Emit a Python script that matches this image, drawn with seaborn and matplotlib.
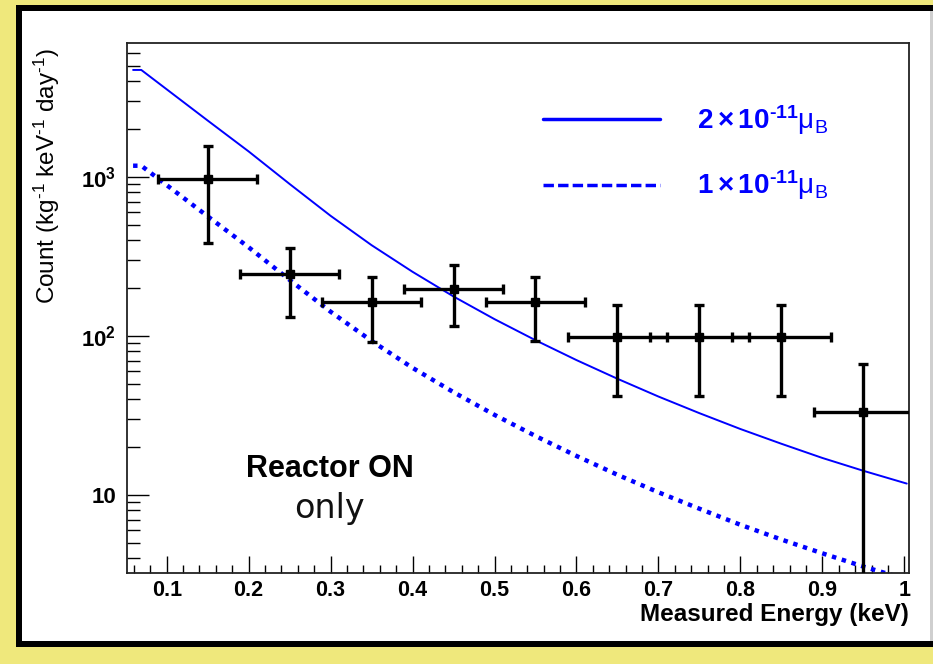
import matplotlib
matplotlib.use('Agg')
import matplotlib.pyplot as plt
from matplotlib.lines import Line2D
from matplotlib.patches import Rectangle
from matplotlib.ticker import FixedLocator, FixedFormatter, LogLocator, NullFormatter, MultipleLocator
import seaborn as sns

# model curves (energy in keV, count per kg/keV/day)
energy = [0.059, 0.069, 0.15, 0.2, 0.25, 0.3, 0.35, 0.4, 0.45, 0.5, 0.55, 0.6,
          0.65, 0.7, 0.75, 0.8, 0.85, 0.9, 0.95, 1.003]
mu_2e11 = [4700, 4700, 2260, 1445, 902, 569, 372, 253, 177, 127.5, 94, 70.5,
           53.8, 41.6, 32.7, 26.0, 21.0, 17.1, 14.2, 11.8]
mu_1e11 = [1175, 1175, 565, 361, 225, 142, 93, 63, 44.3, 31.9, 23.5, 17.6,
           13.4, 10.4, 8.2, 6.5, 5.25, 4.3, 3.55, 2.95]

# measured points (reactor ON only)
bin_center = [0.15, 0.25, 0.35, 0.45, 0.55, 0.65, 0.75, 0.85, 0.95]
counts = [966, 245, 163, 198, 163, 99, 99, 99, 33.1]
counts_hi = [1566, 357, 236, 280, 236, 157, 157, 157, 66.7]
counts_lo = [382, 131, 91.6, 116, 93, 42.2, 42.2, 42.2, 0.5]
bin_halfwidth = 0.06

blue = '#0000ff'
yellow = '#efe87c'

sns.set_theme(style='ticks')
plt.rcParams['font.family'] = ['Liberation Sans', 'DejaVu Sans']
plt.rcParams['mathtext.fontset'] = 'custom'
plt.rcParams['mathtext.rm'] = 'Liberation Sans'
plt.rcParams['mathtext.bf'] = 'Liberation Sans:bold'
plt.rcParams['mathtext.it'] = 'Liberation Sans:italic'
plt.rcParams['text.color'] = 'black'
plt.rcParams['axes.labelcolor'] = 'black'
plt.rcParams['xtick.color'] = 'black'
plt.rcParams['ytick.color'] = 'black'

W, H = 933, 664
fig = plt.figure(figsize=(9.33, 6.64), dpi=100)
fig.patch.set_facecolor('white')


def px_rect(x0, y0, x1, y1, color):
    # rectangle given in pixel coords (top-left origin)
    fig.patches.append(Rectangle((x0 / W, 1 - y1 / H), (x1 - x0) / W, (y1 - y0) / H,
                                 transform=fig.transFigure, facecolor=color,
                                 edgecolor='none', zorder=-1))


# yellow surround and black frame (open on the right)
px_rect(0, 0, W, 5, yellow)
px_rect(0, 647, W, H, yellow)
px_rect(0, 0, 16, H, yellow)
px_rect(16, 5, W, 11, 'black')
px_rect(16, 641, W, 647, 'black')
px_rect(16, 5, 22, 647, 'black')
px_rect(930, 11, W, 641, '#cfcfcf')

ax = fig.add_axes([0.1365, 0.1366, 0.838, 0.798])
ax.set_facecolor('white')

sns.lineplot(x=energy, y=mu_2e11, ax=ax, color=blue, lw=1.4)
sns.lineplot(x=energy, y=mu_1e11, ax=ax, color=blue, lw=3.2, linestyle=(0, (1.0, 1.3)))

lo = [c - l for c, l in zip(counts, counts_lo)]
hi = [h - c for c, h in zip(counts, counts_hi)]
ax.errorbar(bin_center, counts, xerr=bin_halfwidth, yerr=[lo, hi], fmt='s', color='black',
            ms=6, elinewidth=2.4, capsize=3.5, capthick=2.4, zorder=3)

ax.set_yscale('log')
ax.set_xlim(0.052, 1.006)
ax.set_ylim(3.22, 6900)

ax.yaxis.set_major_locator(FixedLocator([10, 100, 1000]))
ax.yaxis.set_major_formatter(FixedFormatter(['10', r'$\mathbf{10^2}$', r'$\mathbf{10^3}$']))
ax.yaxis.set_minor_locator(LogLocator(base=10, subs=range(2, 10)))
ax.yaxis.set_minor_formatter(NullFormatter())
ax.xaxis.set_minor_locator(MultipleLocator(0.02))
ax.set_xticks([0.1, 0.2, 0.3, 0.4, 0.5, 0.6, 0.7, 0.8, 0.9, 1.0])
ax.set_xticklabels(['0.1', '0.2', '0.3', '0.4', '0.5', '0.6', '0.7', '0.8', '0.9', '1'])

ax.tick_params(axis='x', which='major', direction='in', length=12, width=1, pad=5,
               labelsize=15.5)
ax.tick_params(axis='x', which='minor', direction='in', length=6, width=1)
ax.tick_params(axis='y', which='major', direction='in', length=16, width=1, pad=8,
               labelsize=16)
ax.tick_params(axis='y', which='minor', direction='in', length=9, width=1)
for lab in ax.get_xticklabels() + ax.get_yticklabels():
    lab.set_fontweight('bold')

for sp in ax.spines.values():
    sp.set_visible(True)
    sp.set_linewidth(1.3)
    sp.set_color('#222222')

ax.set_xlabel('')
ax.set_ylabel('')
fig.text(0.9746, 1 - 615 / 664, 'Measured Energy (keV)', ha='right', va='center',
         fontsize=17.5, fontweight='bold')
fig.text(47 / 933, 1 - 48 / 664,
         r'Count (kg$^{\text{-1}}$ keV$^{\text{-1}}$ day$^{\text{-1}}$)', rotation=90,
         ha='center', va='top', fontsize=17.5)

handles = [Line2D([], [], color=blue, lw=2.5),
           Line2D([], [], color=blue, lw=2.5, linestyle=(0, (3, 1.2)))]
labels = ['$\\mathbf{2\\times10^{\u201011}}\\mathrm{\\mu_B}$',
          '$\\mathbf{1\\times10^{\u201011}}\\mathrm{\\mu_B}$']
leg = ax.legend(handles, labels, loc='upper left', bbox_to_anchor=(0.532, 0.888),
                frameon=False, fontsize=20, handlelength=4.2, handletextpad=1.33,
                labelspacing=1.15, borderpad=0, borderaxespad=0, labelcolor=blue)

ax.text(0.259, 0.196, 'Reactor ON', transform=ax.transAxes, ha='center', va='center',
        fontsize=22, fontweight='bold', color='black')
ax.text(0.259, 0.122, 'only', transform=ax.transAxes, ha='center', va='center',
        fontsize=24, family='DejaVu Sans', color='#111111')

fig.savefig('out.png', dpi=100, facecolor=fig.get_facecolor())
